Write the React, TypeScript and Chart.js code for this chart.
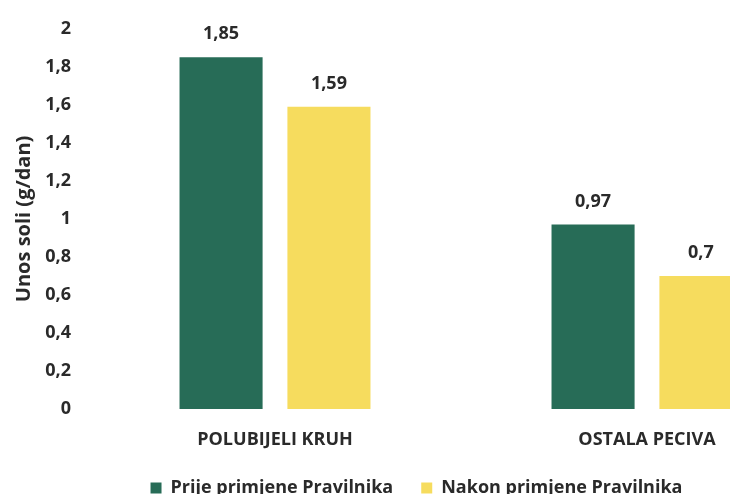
import React, { useEffect, useRef } from "react";
import { Chart, registerables } from "chart.js";

Chart.register(...registerables);

// Category labels on the x axis
const categories: string[] = ["POLUBIJELI KRUH", "OSTALA PECIVA"];

// Salt intake (g/day) before and after the regulation
const seriesNames: string[] = ["Prije primjene Pravilnika", "Nakon primjene Pravilnika"];
const beforeValues: number[] = [1.85, 0.97];
const afterValues: number[] = [1.59, 0.7];

// Y axis range
const yMin = 0;
const yMax = 2;
const yStep = 0.2;
const yTitle = "Unos soli (g/dan)";

const GREEN = "#276c57";
const YELLOW = "#f6dc5e";
const TEXT = "#2a2a2a";
const FONT = "'Open Sans', sans-serif";

const fmt = (v: number) => String(Number(v.toFixed(2))).replace(".", ",");

const valueLabels = {
  id: "valueLabels",
  afterDatasetsDraw(chart: any) {
    const ctx = chart.ctx;
    ctx.save();
    ctx.font = `bold 18px ${FONT}`;
    ctx.fillStyle = TEXT;
    ctx.textAlign = "center";
    ctx.textBaseline = "middle";
    chart.data.datasets.forEach((ds: any, di: number) => {
      const meta = chart.getDatasetMeta(di);
      meta.data.forEach((bar: any, i: number) => {
        ctx.fillText(fmt(ds.data[i]), bar.x, bar.y - 23);
      });
    });
    ctx.restore();
  },
};

export default function App() {
  const ref = useRef<HTMLCanvasElement>(null);

  useEffect(() => {
    if (!ref.current) return;
    const chart = new Chart(ref.current, {
      type: "bar",
      data: {
        labels: categories,
        datasets: [
          { label: seriesNames[0], data: beforeValues, backgroundColor: GREEN },
          { label: seriesNames[1], data: afterValues, backgroundColor: YELLOW },
        ],
      },
      options: {
        animation: false,
        responsive: false,
        layout: { padding: { top: 20, right: 7, bottom: 0, left: 0 } },
        datasets: {
          bar: { categoryPercentage: 0.58, barPercentage: 0.77 },
        },
        scales: {
          x: {
            grid: { display: false, drawTicks: false },
            border: { display: false },
            afterFit: (scale: any) => {
              scale.height = 42;
            },
            ticks: {
              color: TEXT,
              font: { family: FONT, size: 18, weight: "bold" },
              padding: 20,
              maxRotation: 0,
            },
          },
          y: {
            min: yMin,
            max: yMax,
            grid: { display: false, drawTicks: false },
            border: { display: false },
            afterFit: (scale: any) => {
              scale.width = 89;
            },
            ticks: {
              stepSize: yStep,
              color: TEXT,
              font: { family: FONT, size: 18, weight: "bold" },
              padding: 18,
              callback: (v: any) => fmt(Number(v)),
            },
            title: {
              display: true,
              text: yTitle,
              color: TEXT,
              font: { family: FONT, size: 20, weight: "bold" },
              padding: { top: 12, bottom: 0 },
            },
          },
        },
        plugins: {
          legend: {
            position: "bottom",
            labels: {
              color: TEXT,
              font: { family: FONT, size: 18, weight: "bold" },
              boxWidth: 11,
              boxHeight: 11,
              padding: 28,
            },
          },
          tooltip: { enabled: false },
        },
      },
      plugins: [valueLabels],
    });
    return () => chart.destroy();
  }, []);

  return (
    <div
      style={{
        position: "fixed",
        left: 0,
        top: 0,
        width: 730,
        height: 494,
        overflow: "hidden",
        background: "#fff",
      }}
    >
      <canvas ref={ref} width={840} height={507} style={{ width: 840, height: 507, display: "block" }} />
    </div>
  );
}
